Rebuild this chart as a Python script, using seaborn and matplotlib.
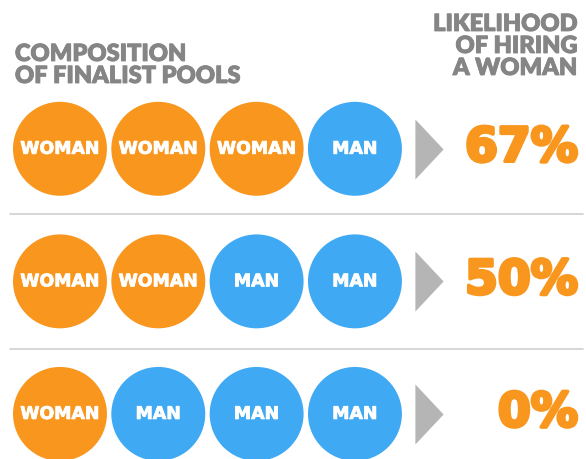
import pandas as pd
import seaborn as sns
import matplotlib.pyplot as plt
import matplotlib.patheffects as pe
from matplotlib.path import Path

# Data
pool_1 = ['WOMAN', 'WOMAN', 'WOMAN', 'MAN']
pool_2 = ['WOMAN', 'WOMAN', 'MAN', 'MAN']
pool_3 = ['WOMAN', 'MAN', 'MAN', 'MAN']
likelihood = [67, 50, 0]
left_title = 'COMPOSITION\nOF FINALIST POOLS'
right_title = 'LIKELIHOOD\nOF HIRING\nA WOMAN'

orange = '#f8961d'
blue = '#40a9f3'
grey = '#858585'

sns.set_theme(style='white')
plt.rcParams['font.family'] = ['Lato', 'DejaVu Sans']

# long table, one row per finalist
rows = []
for r, pool in enumerate([pool_1, pool_2, pool_3]):
    for c, who in enumerate(pool):
        rows.append({'col': c, 'row': r, 'who': who})
df = pd.DataFrame(rows)

fig = plt.figure(figsize=(5.86, 4.6), dpi=100)
ax = fig.add_axes([0, 0, 1, 1])

sns.scatterplot(data=df, x='col', y='row', hue='who',
                palette={'WOMAN': orange, 'MAN': blue},
                s=4780, edgecolor='white', linewidth=1.5,
                legend=False, ax=ax, zorder=3)

def thick(w, c):
    return [pe.Stroke(linewidth=w, foreground=c), pe.Normal()]

for _, d in df.iterrows():
    ax.text(d['col'], d['row'], d['who'], color='white', ha='center',
            va='center', fontsize=12.5, fontweight='bold',
            family='DejaVu Sans', zorder=4,
            path_effects=thick(0.6, 'white'))

# arrows + percentages
tri = Path([(-0.47, -1), (0.47, 0), (-0.47, 1), (-0.47, -1)])
arrow_x = len(pool_1) - 0.25
for r, p in enumerate(likelihood):
    ax.scatter([arrow_x], [r], marker=tri, s=1870, color='#b5b5b5',
               linewidths=0, zorder=3)
    ax.text(5.27, r, f'{p}%', color=orange, ha='right', va='center',
            fontsize=34, fontweight='bold', family='DejaVu Sans', zorder=4,
            path_effects=thick(2.5, orange))

# separators
for y in [0.49, 1.51]:
    ax.axhline(y, xmin=10 / 586, xmax=583 / 586, color='#cfcfcf', lw=1.2)

ax.set_xlim(-0.61, 5.35)
ax.set_ylim(2.34, -1.13)
ax.axis('off')

fig.text(15 / 586, 1 - 44 / 460, left_title, ha='left', va='top',
         color=grey, fontsize=17, fontweight='heavy', linespacing=1.0,
         path_effects=thick(0.6, grey))
fig.text(577 / 586, 1 - 14 / 460, right_title, ha='right', va='top',
         color=grey, fontsize=17, fontweight='heavy', linespacing=1.0,
         path_effects=thick(0.6, grey))

fig.savefig('out.png', dpi=100, facecolor='white')
